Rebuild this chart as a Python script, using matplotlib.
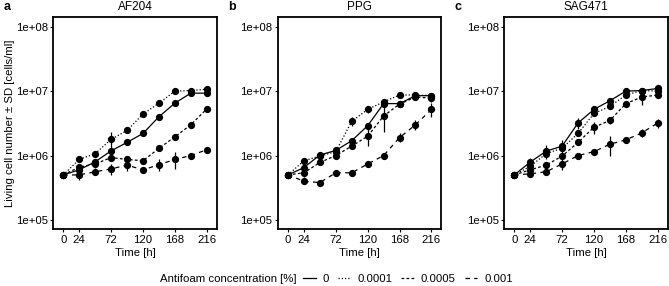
import matplotlib
matplotlib.use("Agg")
import matplotlib.pyplot as plt
from matplotlib.lines import Line2D
import numpy as np

plt.rcParams['font.family'] = ['Liberation Sans', 'DejaVu Sans']

# sampling times [h]
time = [0, 24, 48, 72, 96, 120, 144, 168, 192, 216]
conc_labels = ["0", "0.0001", "0.0005", "0.001"]
strains = ["AF204", "PPG", "SAG471"]
panel_letters = ["a", "b", "c"]

# mean living cell number [cells/ml], one list per antifoam concentration
af204_mean = [
    [5.0e5, 6.0e5, 8.0e5, 1.18e6, 1.6e6, 2.2e6, 4.0e6, 6.5e6, 9.3e6, 9.3e6],
    [5.0e5, 8.7e5, 1.07e6, 1.78e6, 2.45e6, 4.4e6, 6.5e6, 1.0e7, 1.02e7, 1.07e7],
    [5.0e5, 6.6e5, 7.4e5, 9.3e5, 8.7e5, 8.3e5, 1.29e6, 1.95e6, 3.0e6, 5.3e6],
    [5.0e5, 5.0e5, 5.6e5, 6.2e5, 7.1e5, 6.0e5, 7.2e5, 8.7e5, 1.0e6, 1.23e6],
]
af204_sd = [
    [0, 3e4, 4e4, 6e4, 5e4, 6e4, 1e5, 2e5, 3e5, 4e5],
    [0, 4e4, 5e4, 5e5, 1e5, 1.5e5, 2e5, 3e5, 3e5, 4e5],
    [0, 4e4, 1e5, 5e4, 1.2e5, 4e4, 8e4, 1e5, 1.5e5, 2e5],
    [0, 8e4, 3e4, 1.2e5, 1.3e5, 3e4, 1.5e5, 2.5e5, 5e4, 6e4],
]

ppg_mean = [
    [5.0e5, 6.5e5, 1.02e6, 1.2e6, 1.7e6, 2.9e6, 6.4e6, 6.4e6, 8.5e6, 8.5e6],
    [5.0e5, 8.3e5, 9.8e5, 1.15e6, 3.4e6, 5.2e6, 6.8e6, 8.7e6, 8.7e6, 8.5e6],
    [5.0e5, 5.4e5, 7.8e5, 1.0e6, 1.4e6, 2.0e6, 4.1e6, 6.3e6, 8.1e6, 7.8e6],
    [5.0e5, 4.0e5, 3.8e5, 5.4e5, 5.4e5, 7.4e5, 1.0e6, 1.9e6, 3.0e6, 5.2e6],
]
ppg_sd = [
    [0, 5e4, 1e5, 8e4, 2e5, 3e5, 3e5, 4e5, 4e5, 4e5],
    [0, 6e4, 5e4, 6e4, 5e5, 7e5, 3e5, 3e5, 3e5, 4e5],
    [0, 8e4, 6e4, 7e4, 1e5, 6e5, 1.8e6, 5e5, 4e5, 1e6],
    [0, 3e4, 2e4, 2e4, 2e4, 5e4, 5e4, 3e5, 5e5, 1.3e6],
]

sag471_mean = [
    [5.0e5, 7.9e5, 1.17e6, 1.4e6, 3.2e6, 5.2e6, 7.1e6, 1.0e7, 1.02e7, 1.1e7],
    [5.0e5, 6.8e5, 1.07e6, 1.3e6, 2.2e6, 4.5e6, 5.8e6, 8.7e6, 1.02e7, 1.0e7],
    [5.0e5, 6.0e5, 7.1e5, 9.8e5, 1.6e6, 2.75e6, 3.5e6, 6.4e6, 8.1e6, 8.7e6],
    [5.0e5, 5.2e5, 5.6e5, 7.4e5, 1.0e6, 1.15e6, 1.5e6, 1.75e6, 2.25e6, 3.2e6],
]
sag471_sd = [
    [0, 1.2e5, 3e5, 3.5e5, 6e5, 5e5, 5e5, 1e6, 4e5, 4e5],
    [0, 5e4, 8e4, 1e5, 2e5, 4e5, 5e5, 5e5, 4e5, 4e5],
    [0, 5e4, 6e4, 1e5, 1e5, 6e5, 4e5, 4e5, 2e6, 7e5],
    [0, 4e4, 4e4, 1.5e5, 5e4, 8e4, 5e5, 1e5, 3e5, 5e5],
]

means = [af204_mean, ppg_mean, sag471_mean]
sds = [af204_sd, ppg_sd, sag471_sd]

styles = ["-", (0, (1, 1.6)), (0, (2.2, 1.8)), (0, (3.5, 3.5))]

W, H = 669, 286
fig = plt.figure(figsize=(W / 100, H / 100), dpi=100)

lefts = [53.3, 278, 504.3]
ax_w = 163.4
ax_top, ax_bot = 17.3, 229.3

for i in range(3):
    ax = fig.add_axes([lefts[i] / W, 1 - ax_bot / H, ax_w / W, (ax_bot - ax_top) / H])
    for j in range(4):
        m = np.array(means[i][j])
        s = np.array(sds[i][j])
        ax.errorbar(time, m, yerr=s, fmt='none', ecolor='black', elinewidth=0.9, capsize=0, zorder=2)
        ax.plot(time, m, color='black', linestyle=styles[j], linewidth=0.9, zorder=3)
        ax.plot(time, m, 'o', color='black', markersize=4.2, zorder=4)
    ax.set_yscale('log')
    ax.set_ylim(10 ** 4.855, 10 ** 8.146)
    ax.set_xlim(-15, 231)
    ax.set_xticks([0, 24, 72, 120, 168, 216])
    ax.set_yticks([1e5, 1e6, 1e7, 1e8])
    ax.set_yticklabels(["1e+05", "1e+06", "1e+07", "1e+08"])
    ax.minorticks_off()
    ax.tick_params(labelsize=8.2, length=2.5, width=0.8, pad=1.5, colors='black')
    for sp in ax.spines.values():
        sp.set_linewidth(1.3)
    ax.set_title(strains[i], fontsize=8.5, pad=5)
    ax.set_xlabel("Time [h]", fontsize=8.2, labelpad=2)
    fig.text((lefts[i] - 50) / W, 1 - 7 / H, panel_letters[i], fontsize=9, fontweight='bold', va='center', ha='left')

fig.text(10 / W, 1 - 123.3 / H, "Living cell number \u00b1 SD [cells/ml]", rotation=90,
         fontsize=8.2, va='center', ha='center')

fig.text(160 / W, 7 / H, "Antifoam concentration [%]", fontsize=8.2, va='center', ha='left')
handles = [Line2D([0], [0], color='black', linestyle=styles[j], linewidth=0.9) for j in range(4)]
fig.legend(handles, conc_labels, loc='center left', bbox_to_anchor=(303 / W, 7 / H), ncol=4,
           frameon=False, fontsize=8.2, handlelength=1.1, handletextpad=0.6, columnspacing=0.8,
           borderpad=0, borderaxespad=0)

fig.savefig("out.png", dpi=100)
